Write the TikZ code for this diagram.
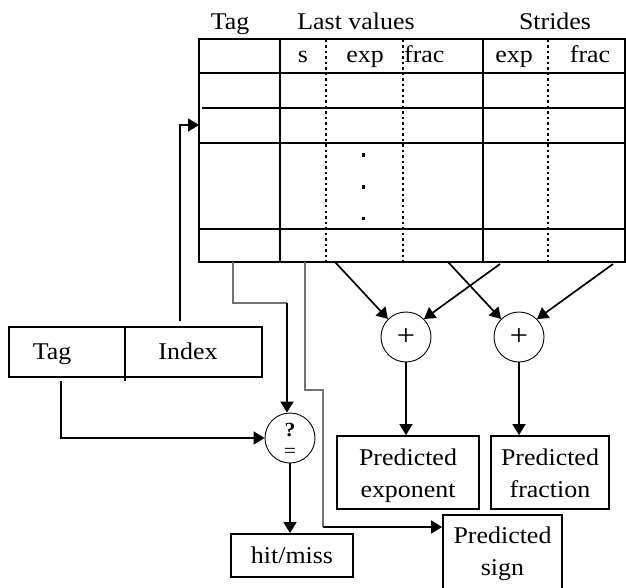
\documentclass[tikz,border=0pt]{standalone}
\usepackage{fontspec}
\setmainfont{Liberation Serif}[FakeStretch=1.08]
\usetikzlibrary{arrows.meta}
\tikzset{
  grid/.style={line width=1.9pt},
  sep/.style={line width=1.6pt, dash pattern=on 2.5pt off 3pt},
  box/.style={draw, line width=1.8pt, inner sep=0pt},
  adder/.style={draw, circle, line width=0.9pt, minimum size=50pt, inner sep=0pt},
  lbl/.style={font=\fontsize{24}{32}\selectfont, anchor=base, inner sep=0pt},
  wire/.style={line width=1.7pt, -{Triangle[length=11pt,width=13pt]}},
  gwire/.style={line width=1.3pt, draw=black!55},
}
\begin{document}
\begin{tikzpicture}[x=1pt,y=-1pt]
\useasboundingbox (0,0) rectangle (626,588);
\clip (0,0) rectangle (626,588);

% ---- prediction table ----
\draw[grid] (199,39) rectangle (625,262);
\foreach \y in {73,143,229} \draw[grid] (199,\y) -- (625,\y);
\draw[grid] (202,108) -- (625,108);
\foreach \x in {280,483} \draw[grid] (\x,39) -- (\x,262);
\foreach \x in {326,403,548} \draw[sep] (\x,40) -- (\x,261);
\foreach \y in {155,187,218} \fill (361.5,\y-1.5) rectangle ++(3.5,3.5);

% column headings
\node[lbl] (hTag) at (230,30) {Tag};
\node[lbl] (hLast) at (356,30) {Last values};
\node[lbl] (hStr) at (555,30) {Strides};
\node[lbl] (cS) at (303,63) {s};
\node[lbl] (cE1) at (365,63) {exp};
\node[lbl, anchor=base west] (cF1) at (404,63) {frac};
\node[lbl] (cE2) at (514,63) {exp};
\node[lbl] (cF2) at (590,63) {frac};

% ---- address register ----
\node[box, minimum width=253pt, minimum height=50pt] (addr) at (135.5,352) {};
\draw[line width=1.6pt] (125,327) -- (125,381);
\node[lbl] (aTag) at (52,359) {Tag};
\node[lbl] (aIdx) at (188,359) {Index};

% ---- comparator and adders ----
\node[adder] (eq) at (290,438) {};
\node[font=\fontsize{20}{20}\bfseries\selectfont, inner sep=0pt] (eqq) at (290,430) {?};
\node[font=\fontsize{20}{20}\selectfont, inner sep=0pt] (eqs) at (290,453) {=};
\node[adder, font=\fontsize{30}{30}\selectfont] (addE) at (406,337) {+};
\node[adder, font=\fontsize{30}{30}\selectfont] (addF) at (519,337) {+};

% ---- result boxes ----
\node[box, minimum width=142pt, minimum height=73pt] (pExp) at (408,472.5) {};
\node[lbl] at (408,465) {Predicted};
\node[lbl] at (408,497) {exponent};
\node[box, minimum width=118pt, minimum height=73pt] (pFrac) at (550,472.5) {};
\node[lbl] at (550,465) {Predicted};
\node[lbl] at (550,497) {fraction};
\node[box, minimum width=119pt, minimum height=90pt] (pSign) at (502.5,560) {};
\node[lbl] at (502.5,543) {Predicted};
\node[lbl] at (502.5,575) {sign};
\node[box, minimum width=122pt, minimum height=43pt] (hit) at (292,555.5) {};
\node[lbl] at (292,563) {hit/miss};

% ---- connectors ----
\coordinate (idxUp) at (180,321);
\coordinate (rowIn) at (199,125);
\draw[wire] (idxUp) |- (rowIn);

\coordinate (tagDn) at (61,381);
\draw[wire] (tagDn) |- (eq.west);

\coordinate (tagOut) at (233,262);
\coordinate (tagTurn) at (287,303);
\draw[gwire] (tagOut) |- (tagTurn);
\draw[wire] (tagTurn) -- (eq.north -| tagTurn);

\draw[wire] (eq.south) -- (hit.north -| eq.south);

\coordinate (sOut) at (305,262);
\coordinate (sJog) at (323,390);
\coordinate (sTurn) at (323,527);
\draw[gwire] (sOut) |- (sJog) -- (sTurn);
\draw[wire] (sTurn) -- (pSign.west |- sTurn);

\coordinate (lvExp) at (335,262);
\coordinate (lvFrac) at (448,262);
\coordinate (stExp) at (500,264);
\coordinate (stFrac) at (613,264);
\draw[wire] (lvExp) -- (addE.north west);
\draw[wire] (stExp) -- (addE.north east);
\draw[wire] (lvFrac) -- (addF.north west);
\draw[wire] (stFrac) -- (addF.north east);

\draw[wire] (addE.south) -- (pExp.north -| addE.south);
\draw[wire] (addF.south) -- (pFrac.north -| addF.south);
\end{tikzpicture}
\end{document}
